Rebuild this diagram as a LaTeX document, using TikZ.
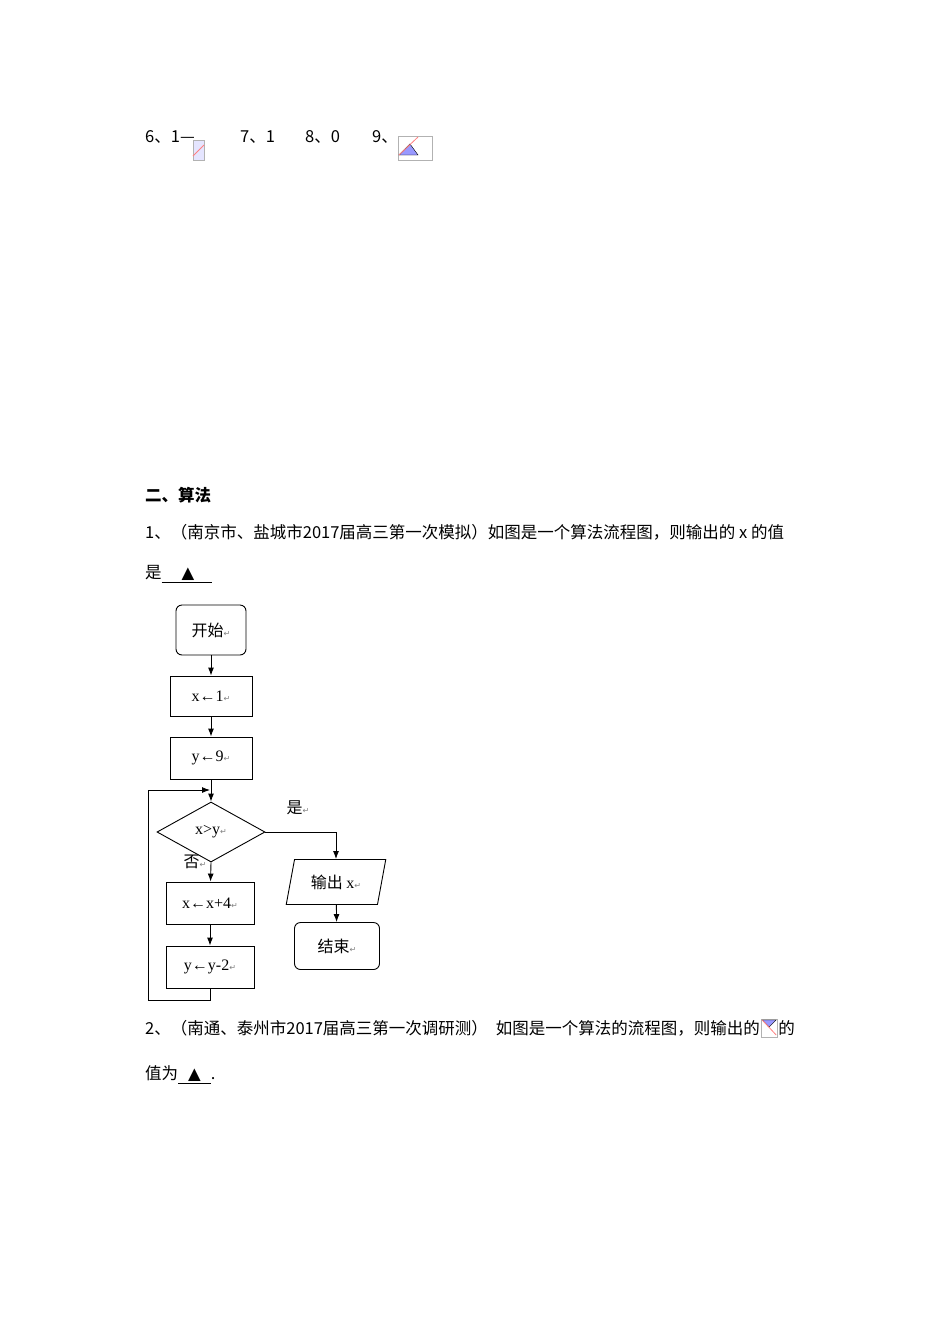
\documentclass[tikz,border=0pt]{standalone}
\usepackage{fontspec}
\setmainfont{Liberation Serif}
\newfontfamily\cjk{Noto Sans CJK SC}
\newfontfamily\djf{DejaVu Sans}
\usetikzlibrary{arrows.meta,shapes.geometric}
\newcommand{\rt}{{\djf\fontsize{8}{8}\selectfont\color{gray}↵}}
\begin{document}
\begin{tikzpicture}[x=1pt,y=-1pt,
  box/.style={draw,line width=0.9pt,minimum width=82pt,minimum height=40pt,font=\fontsize{16}{16}\selectfont},
  rbox/.style={box,rounded corners=6pt},
  ln/.style={line width=0.9pt},
  ar/.style={ln,-{Latex[length=8pt,width=6pt]}},
  txt/.style={anchor=west,inner sep=0pt,font=\cjk\fontsize{16.5}{16.5}\selectfont},
  icon/.style={draw=gray!60,line width=0.5pt}]
\useasboundingbox (0,0) rectangle (950,1344);
% top answers
\node[txt] (a6) at (145,137) {6、1—};
\draw[icon,fill=blue!10] (193,140) rectangle (204,160);
\draw[red!50,line width=0.8pt] (193,156)--(204,145);
\node[txt] (a7) at (240,137) {7、1};
\node[txt] (a8) at (305,137) {8、0};
\node[txt] (a9) at (372,137) {9、};
\draw[icon] (398,136) rectangle (432,160);
\draw[fill=blue!40,draw=black] (399,155)--(410,144)--(418,155)--cycle;
\draw[red!50,line width=0.8pt] (399,155)--(418,137);
% headings
\node[txt,font=\cjk\bfseries\fontsize{16.5}{16.5}\selectfont] (h) at (145,495) {二、算法};
\node[txt] (q1) at (145,532) {1、（南京市、盐城市2017届高三第一次模拟）如图是一个算法流程图，则输出的 \textit{x} 的值};
\node[txt] (q1b) at (145,574) {是\underline{\hspace{20pt}{\djf▲}\hspace{18pt}}};
\node[txt] (q2) at (145,1028) {2、（南通、泰州市2017届高三第一次调研测）\hspace{8pt}如图是一个算法的流程图，则输出的};
\draw[icon] ([xshift=1pt,yshift=-9pt]q2.east) rectangle ([xshift=17pt,yshift=9pt]q2.east);
\draw[fill=blue!40,draw=black] ([xshift=2pt,yshift=8pt]q2.east)--([xshift=9pt,yshift=1pt]q2.east)--([xshift=16pt,yshift=8pt]q2.east)--cycle;
\draw[red!50,line width=0.8pt] ([xshift=2pt,yshift=8pt]q2.east)--([xshift=16pt,yshift=-7pt]q2.east);
\node[txt] (q2c) at ([xshift=18pt]q2.east) {的};
\node[txt] (q2b) at (145,1075) {值为\underline{\hspace{10pt}{\djf▲}\hspace{10pt}}.};
% flowchart
\node[rbox,minimum width=70pt,minimum height=50pt] (start) at (211,630) {\cjk 开始\rt};
\node[box] (x1) at (211,696) {x←1\rt};
\node[box,minimum height=42pt] (y9) at (211,758) {y←9\rt};
\node[diamond,draw,line width=0.9pt,aspect=1.8,minimum width=108pt,minimum height=60pt,inner sep=0pt,font=\fontsize{16}{16}\selectfont] (d) at (211,832) {x>y\rt};
\node[box,minimum width=88pt,minimum height=42pt] (xx) at (210,903) {x←x+4\rt};
\node[box,minimum width=88pt,minimum height=42pt] (yy) at (210,967) {y←y-2\rt};
\node[trapezium,trapezium left angle=75,trapezium right angle=105,trapezium stretches=true,draw,line width=0.9pt,minimum width=100pt,minimum height=45pt,inner xsep=0pt,inner ysep=2pt,font=\fontsize{16}{16}\selectfont] (out) at (336,882) {\cjk 输出 \rmfamily x\rt};
\node[rbox,minimum width=85pt,minimum height=47pt] (end) at (337,946) {\cjk 结束\rt};
\draw[ar] (start) -- (x1);
\draw[ar] (x1) -- (y9);
\draw[ar] (y9) -- (d);
\draw[ar] (d.south) -- (xx);
\draw[ar] (xx) -- (yy);
\draw[ar] (d.east) -| (out.north);
\draw[ar] (out) -- (end);
\coordinate (lp) at (148,1000);
\coordinate (lin) at (210,790);
\draw[ar] (yy.south) |- (lp) |- (lin);
\node[font=\cjk\fontsize{16}{16}\selectfont] (yes) at (298,808) {是\rt};
\node[font=\cjk\fontsize{16}{16}\selectfont] (no) at (195,862) {否\rt};
\end{tikzpicture}
\end{document}
